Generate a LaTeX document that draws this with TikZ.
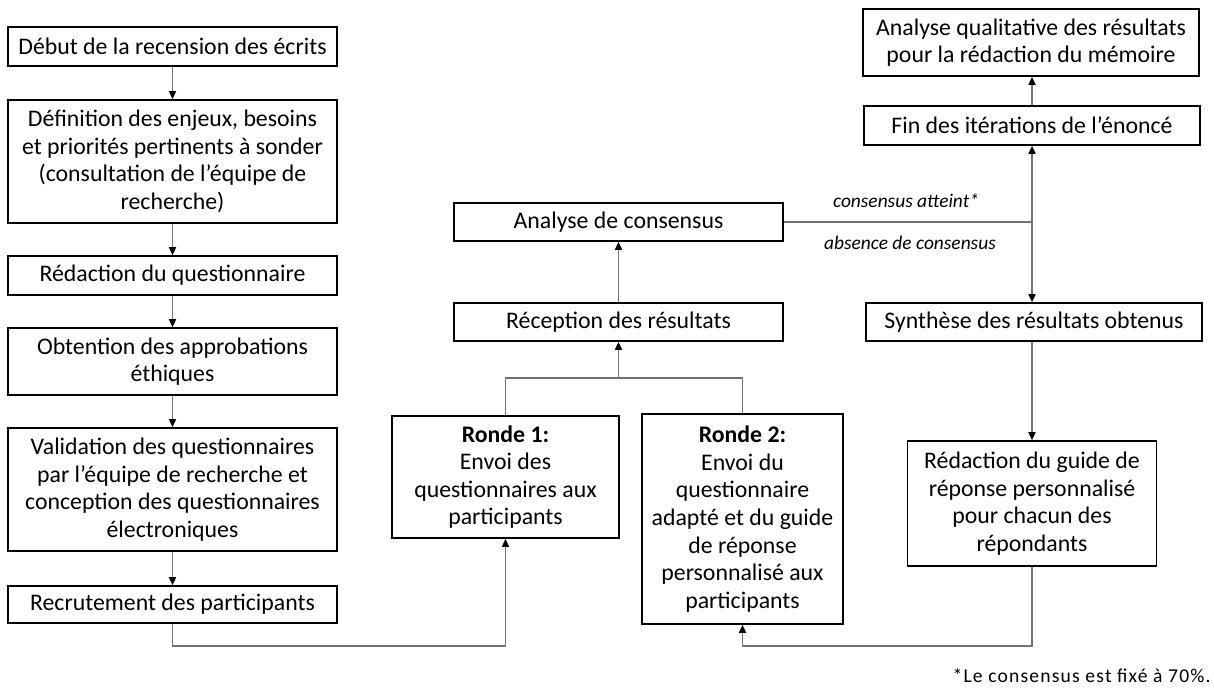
\documentclass[tikz,border=0pt]{standalone}
\usepackage{fontspec}
\setmainfont{Carlito}
\usepackage{tikz}
\usetikzlibrary{arrows.meta}

\begin{document}
\begin{tikzpicture}[x=0.5pt, y=-0.5pt,
    box/.style={draw, line width=0.9pt, align=center, inner sep=0pt, font=\fontsize{11.9}{13.8}\selectfont},
    link/.style={draw=black!55, line width=0.6pt},
    flow/.style={link, -{Triangle[length=4pt, width=3.6pt, color=black]}},
    note/.style={font=\fontsize{9.7}{11}\selectfont\itshape}]
    \useasboundingbox (0,0) rectangle (1214,689);
    \node[box, minimum width=164.5pt, minimum height=19.5pt] (debut) at (172.5,46.5) {Début de la recension des écrits};
    \node[box, minimum width=164.5pt, minimum height=61.5pt] (enjeux) at (172.5,161.5) {Définition des enjeux, besoins\\ et priorités pertinents à sonder\\ (consultation de l’équipe de\\ recherche)};
    \node[box, minimum width=164.5pt, minimum height=19.5pt] (redac) at (172.5,275.5) {Rédaction du questionnaire};
    \node[box, minimum width=164.5pt, minimum height=33.5pt] (ethique) at (172.5,361.5) {Obtention des approbations\\ éthiques};
    \node[box, minimum width=164.5pt, minimum height=61.5pt] (valid) at (172.5,489.5) {Validation des questionnaires\\ par l’équipe de recherche et\\ conception des questionnaires\\ électroniques};
    \node[box, minimum width=164.5pt, minimum height=18.5pt] (recru) at (172.5,604.5) {Recrutement des participants};
    \node[box, minimum width=113.5pt, minimum height=61pt] (ronde1) at (505.5,477) {\textbf{Ronde 1:}\\ Envoi des\\ questionnaires aux\\ participants};
    \node[box, minimum width=100.5pt, minimum height=105pt] (ronde2) at (742.5,519) {\textbf{Ronde 2:}\\ Envoi du\\ questionnaire\\ adapté et du guide\\ de réponse\\ personnalisé aux\\ participants};
    \node[box, minimum width=164.5pt, minimum height=19pt] (recep) at (618.5,322) {Réception des résultats};
    \node[box, minimum width=164.5pt, minimum height=19pt] (consensus) at (618.5,222) {Analyse de consensus};
    \node[box, minimum width=168pt, minimum height=33.5pt] (quali) at (1031,42.5) {Analyse qualitative des résultats\\ pour la rédaction du mémoire};
    \node[box, minimum width=168pt, minimum height=19.5pt] (fin) at (1032,125.5) {Fin des itérations de l’énoncé};
    \node[box, minimum width=168pt, minimum height=19pt] (synth) at (1034,322) {Synthèse des résultats obtenus};
    \node[box, minimum width=124.5pt, minimum height=62.5pt] (guide) at (1032,503.5) {Rédaction du guide de\\ réponse personnalisé\\ pour chacun des\\ répondants};
    \node[note] (atteint) at (906,201) {consensus atteint*};
    \node[note] (absence) at (910,243) {absence de consensus};
    \node[anchor=east, inner sep=0pt, font=\fontsize{9.8}{11}\selectfont\addfontfeatures{LetterSpace=6}] (seuil) at (1211,676) {*Le consensus est fixé à 70\%.};
    \coordinate (join) at (618.5,378);
    \coordinate (split) at (1032,222);
    \coordinate (lowL) at (172.5,646);
    \coordinate (lowR) at (1032,646);
    \draw[flow] (debut) -- (enjeux);
    \draw[flow] (enjeux) -- (redac);
    \draw[flow] (redac) -- (ethique);
    \draw[flow] (ethique) -- (valid);
    \draw[flow] (valid) -- (recru);
    \draw[flow] (recru.south) -- (lowL) -| (ronde1.south);
    \draw[link] (ronde1.north) |- (join) -| (ronde2.north);
    \draw[flow] (join) -- (recep.south);
    \draw[flow] (recep) -- (consensus);
    \draw[link] (consensus.east) -- (split);
    \draw[flow] (split) -- (fin.south -| split);
    \draw[flow] (split) -- (synth.north -| split);
    \draw[flow] (fin.north -| split) -- (quali.south -| split);
    \draw[flow] (synth.south -| split) -- (guide.north);
    \draw[flow] (guide.south) -- (lowR) -| (ronde2.south);
\end{tikzpicture}
\end{document}
